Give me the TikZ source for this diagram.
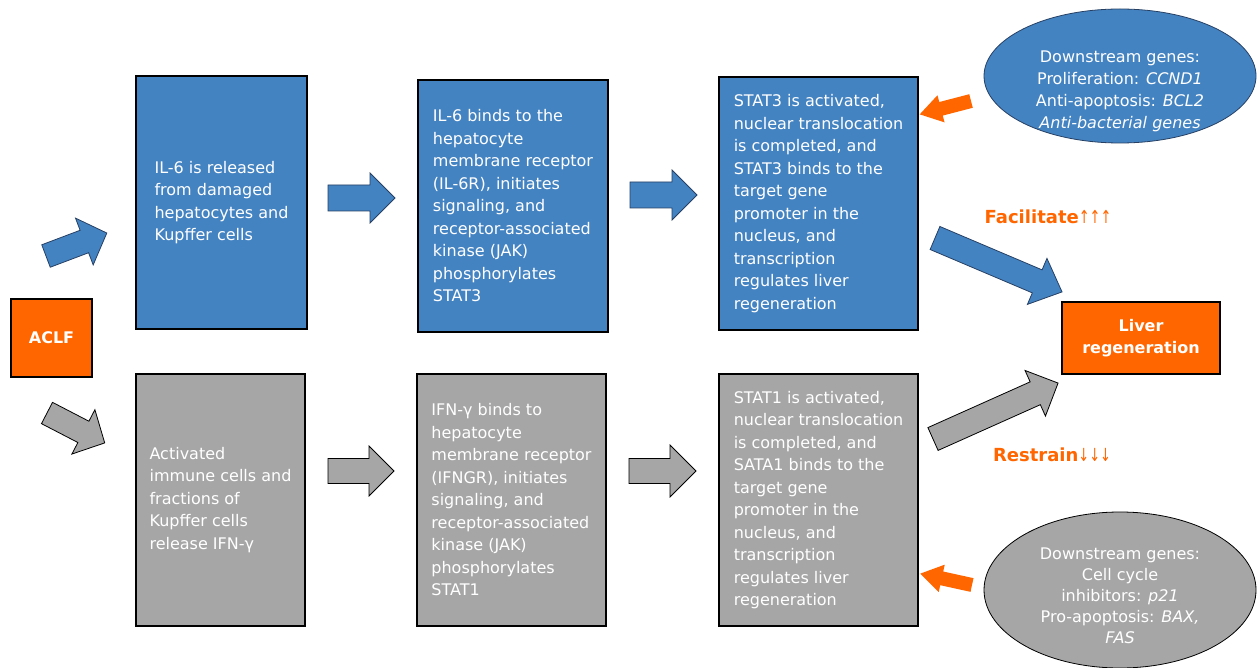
\documentclass[tikz,border=0pt]{standalone}
\usepackage{fontspec}
\setmainfont{DejaVu Sans}
\usepackage{tikz}
\usetikzlibrary{shapes.geometric}

\definecolor{stblue}{RGB}{68,131,194}
\definecolor{stgray}{RGB}{166,166,166}
\definecolor{aorange}{RGB}{255,102,0}
\definecolor{bluerim}{RGB}{38,64,100}

\begin{document}
\begin{tikzpicture}[x=1pt,y=-1pt]
    % block arrow: [style] {tail} {angle} {length} {shaft half} {head half} {head length}
    \newcommand{\fatarrow}[7][]{\path[#1,shift={#2},rotate=#3] (0,#5) -- ({#4-#7},#5) -- ({#4-#7},#6) -- (#4,0) -- ({#4-#7},-#6) -- ({#4-#7},-#5) -- (0,-#5) -- cycle;}
    
    \tikzstyle{box}=[
      draw=black,
      line width=1.2pt,
      align=left,
      text=white,
      inner sep=0pt,
      font=\fontsize{16}{22.5}\selectfont,
    ]
    \tikzstyle{sbox}=[box, fill=stblue]
    \tikzstyle{gbox}=[box, fill=stgray]
    \tikzstyle{obox}=[
      box,
      fill=aorange,
      align=center,
      font=\fontsize{16}{22.5}\selectfont\bfseries,
    ]
    \tikzstyle{genes}=[ellipse, line width=0.8pt, inner sep=0pt, minimum width=272pt]
    \tikzstyle{genetext}=[align=center, text=white, font=\fontsize{16}{22}\selectfont]
    \tikzstyle{effect}=[text=aorange, font=\fontsize{18}{20}\selectfont\bfseries]
    \tikzstyle{barrow}=[fill=stblue, draw=bluerim, line width=0.8pt]
    \tikzstyle{garrow}=[fill=stgray, draw=black, line width=0.8pt]
    \tikzstyle{oarrow}=[fill=aorange]
    
    \useasboundingbox (0,0) rectangle (1257,668);
    
    {
      \node[obox, minimum width=81pt, minimum height=78pt] (aclf) at (51.5,338) {ACLF};
      \node[obox, minimum width=158pt, minimum height=72pt] (liver) at (1141,338) {Liver\\regeneration};
      
      \node[sbox, minimum width=171pt, minimum height=253pt] (il6rel) at (221.5,202.5)
        {IL-6 is released\\from damaged\\hepatocytes and\\Kupffer cells};
      \node[sbox, minimum width=190pt, minimum height=252pt] (il6bind) at (513,206)
        {IL-6 binds to the\\hepatocyte\\membrane receptor\\(IL-6R), initiates\\signaling, and\\receptor-associated\\kinase (JAK)\\phosphorylates\\STAT3};
      \node[sbox, minimum width=199pt, minimum height=253pt] (stat3) at (818.5,203.5)
        {STAT3 is activated,\\nuclear translocation\\is completed, and\\STAT3 binds to the\\target gene\\promoter in the\\nucleus, and\\transcription\\regulates liver\\regeneration};
      
      \node[gbox, minimum width=169pt, minimum height=252pt] (ifnrel) at (220.5,500)
        {Activated\\immune cells and\\fractions of\\Kupffer cells\\release IFN-γ};
      \node[gbox, minimum width=189pt, minimum height=252pt] (ifnbind) at (511.5,500)
        {IFN-γ binds to\\hepatocyte\\membrane receptor\\(IFNGR), initiates\\signaling, and\\receptor-associated\\kinase (JAK)\\phosphorylates\\STAT1};
      \node[gbox, minimum width=199pt, minimum height=252pt] (stat1) at (818.5,500)
        {STAT1 is activated,\\nuclear translocation\\is completed, and\\SATA1 binds to the\\target gene\\promoter in the\\nucleus, and\\transcription\\regulates liver\\regeneration};
      
      \node[genes, fill=stblue, draw=bluerim, minimum height=134pt] (up) at (1120,76) {};
      \node[genetext] (uptext) at (1120,91.5)
        {Downstream genes:\\Proliferation: \textit{CCND1}\\Anti-apoptosis: \textit{BCL2}\\\textit{Anti-bacterial genes}};
      \node[genes, fill=stgray, draw=black, minimum height=156pt] (down) at (1120,590) {};
      \node[genetext, font=\fontsize{16}{21}\selectfont] (downtext) at (1120,596)
        {Downstream genes:\\Cell cycle\\inhibitors: \textit{p21}\\Pro-apoptosis: \textit{BAX,}\\\textit{FAS}};
      
      \node[effect] (fac) at (1048,217) {Facilitate{\mdseries\scalebox{0.72}[1]{↑↑↑}}};
      \node[effect] (res) at (1052,455) {Restrain{\mdseries\scalebox{0.72}[1]{↓↓↓}}};
    }
    
    {
      \fatarrow[barrow]{(46,256)}{20.7}{65}{12}{25}{24}
      \fatarrow[garrow]{(47,413)}{-27.4}{65}{12}{25}{24}
      
      \fatarrow[barrow]{(328,198)}{0}{67}{13}{25}{25}
      \fatarrow[barrow]{(630,195)}{0}{67}{13}{25}{25}
      \fatarrow[garrow]{(328,471)}{0}{66}{12.5}{25}{25}
      \fatarrow[garrow]{(629,471)}{0}{67}{12.5}{26}{26}
      
      \fatarrow[barrow]{(935,238)}{-23}{138}{12.5}{25}{27}
      \fatarrow[garrow]{(933,439)}{24.1}{137}{12.5}{25}{25}
      
      \fatarrow[oarrow]{(971,101)}{-165.4}{53}{7}{14}{22}
      \fatarrow[oarrow]{(972,585)}{167.6}{53}{7}{14}{22}
    }
\end{tikzpicture}
\end{document}
